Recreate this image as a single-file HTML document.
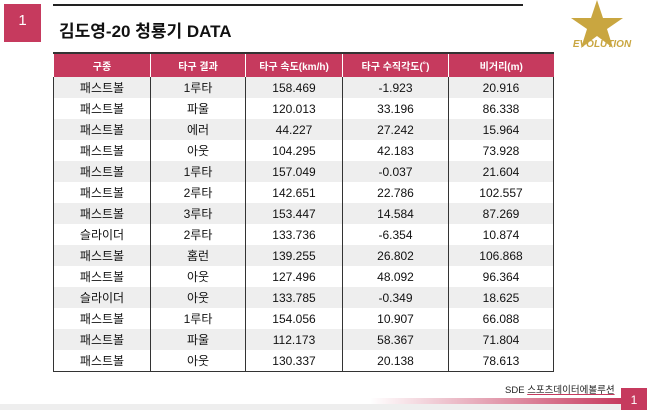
<!DOCTYPE html>
<html><head><meta charset="utf-8">
<style>
body{margin:0;width:647px;height:410px;background:#fff;position:relative;overflow:hidden;font-family:"Liberation Sans","Noto Sans CJK KR",sans-serif;}
.abs{position:absolute}
table{border-collapse:collapse;position:absolute;left:53px;top:52px;width:500px;table-layout:fixed}
th{background:#c63a5e;color:#fff;font-size:10px;font-weight:bold;height:23px;padding:0;border-left:1px solid #fff;border-top:2px solid #333}
td{font-size:12px;text-align:center;height:21px;padding:0;border-left:1px solid #333;color:#111}
tr:nth-child(odd) td{background:#eeeeee}
tr:last-child td{border-bottom:1px solid #333}
td:last-child{border-right:1px solid #333}
</style></head><body>
<div class="abs" style="left:4px;top:4px;width:37px;height:38px;background:#c63a5e;color:#fff;font-size:15px;text-align:center;line-height:34px">1</div>
<div class="abs" style="left:53px;top:4px;width:470px;height:2px;background:#222"></div>
<div class="abs" style="left:59px;top:17px;font-size:17px;font-weight:bold;color:#111">김도영-20 청룡기 DATA</div>
<div class="abs" style="left:565px;top:0;width:75px;height:55px">
<svg width="75" height="55"><polygon points="32,0 38,18 58,18 42,29 48,48 32,36 16,48 22,29 6,18 26,18" fill="#c9a640"/><text x="37" y="47" font-size="10" font-style="italic" font-weight="bold" fill="#c9a640" text-anchor="middle" font-family="Liberation Sans">EVOLUTION</text></svg></div>
<table>
<colgroup><col style="width:97px"><col style="width:95px"><col style="width:97px"><col style="width:106px"><col style="width:105px"></colgroup>
<thead><tr><th>구종</th><th>타구 결과</th><th>타구 속도(km/h)</th><th>타구 수직각도(˚)</th><th>비거리(m)</th></tr></thead>
<tbody id="tb"></tbody></table>
<div class="abs" style="left:505px;top:382px;font-size:9.5px;color:#222">SDE <u style="text-decoration-color:#c63a5e">스포츠데이터에볼루션</u></div>
<div class="abs" style="left:370px;top:398px;width:252px;height:6px;background:linear-gradient(90deg,rgba(198,58,94,0),#c63a5e)"></div>
<div class="abs" style="left:0;top:404px;width:647px;height:6px;background:#eee"></div>
<div class="abs" style="left:621px;top:388px;width:26px;height:22px;background:#c63a5e;color:#fff;font-size:12px;text-align:center;line-height:24px">1</div>
<script>
const pitch=["패스트볼","패스트볼","패스트볼","패스트볼","패스트볼","패스트볼","패스트볼","슬라이더","패스트볼","패스트볼","슬라이더","패스트볼","패스트볼","패스트볼"];
const result=["1루타","파울","에러","아웃","1루타","2루타","3루타","2루타","홈런","아웃","아웃","1루타","파울","아웃"];
const speed=["158.469","120.013","44.227","104.295","157.049","142.651","153.447","133.736","139.255","127.496","133.785","154.056","112.173","130.337"];
const angle=["-1.923","33.196","27.242","42.183","-0.037","22.786","14.584","-6.354","26.802","48.092","-0.349","10.907","58.367","20.138"];
const dist=["20.916","86.338","15.964","73.928","21.604","102.557","87.269","10.874","106.868","96.364","18.625","66.088","71.804","78.613"];
const tb=document.getElementById('tb');
for(let i=0;i<pitch.length;i++){
 const tr=document.createElement('tr');
 
 
 [pitch[i],result[i],speed[i],angle[i],dist[i]].forEach(v=>{const td=document.createElement('td');td.textContent=v;tr.appendChild(td);});
 tb.appendChild(tr);
}
</script>
</body></html>
